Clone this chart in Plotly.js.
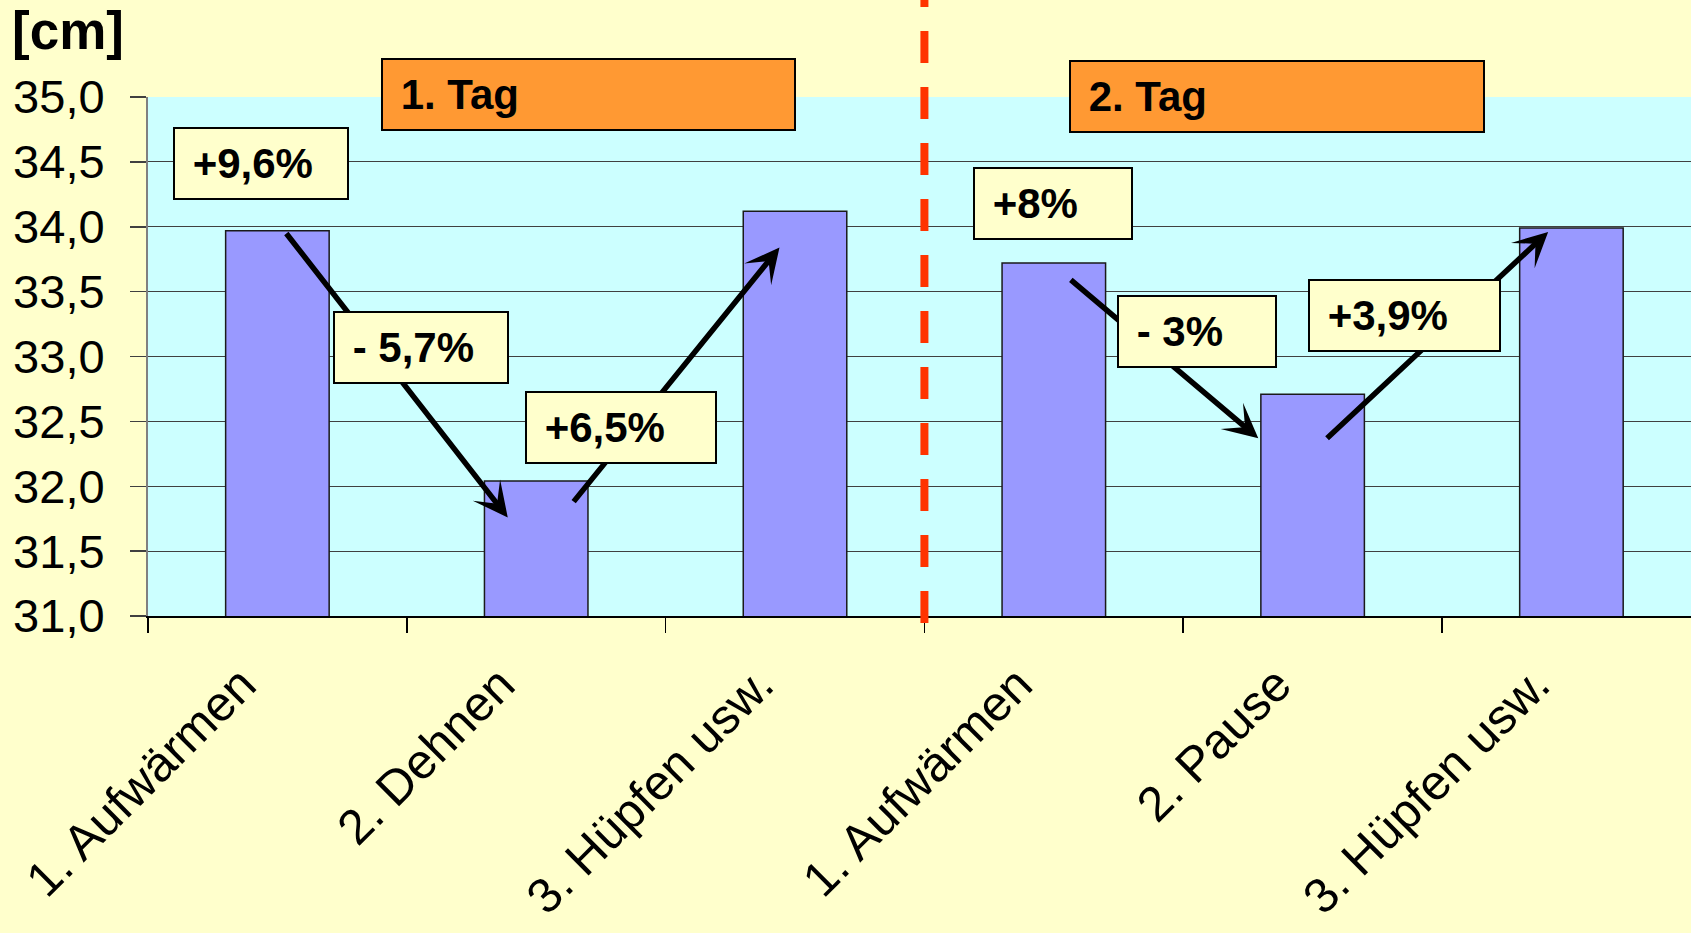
<!DOCTYPE html>
<html>
<head>
<meta charset="utf-8">
<script src="https://cdn.plot.ly/plotly-3.0.1.min.js"></script>
<style>
  html, body { margin: 0; padding: 0; background: #FFFFCC; }
  #chart { width: 1691px; height: 933px; }
</style>
</head>
<body>
<div id="chart"></div>
<script>
// Sprunghöhe je Übungsphase an zwei Tagen
const categories = ['1. Aufwärmen', '2. Dehnen', '3. Hüpfen usw.', '1. Aufwärmen', '2. Pause', '3. Hüpfen usw.'];
const heights = [33.97, 32.04, 34.12, 33.72, 32.71, 33.99];
const dayLabels = ['1. Tag', '2. Tag'];
const changeLabels = ['+9,6%', '- 5,7%', '+6,5%', '+8%', '- 3%', '+3,9%'];
const unitLabel = '[cm]';

const FONT = 'Liberation Sans, Arial, sans-serif';
const positions = categories.map((_, i) => i);
const boundaries = categories.map((_, i) => i - 0.5).concat([categories.length - 0.5]);
const xRange = [-0.5, 5.462];

// Pfeile zwischen den Phasen (Start -> Spitze, in Achsenkoordinaten)
const arrowLayout = [
  { ax: 0.03, ay: 33.96, x: 0.89, y: 31.76 },
  { ax: 1.14, ay: 31.87, x: 1.94, y: 33.84 },
  { ax: 3.06, ay: 33.60, x: 3.79, y: 32.37 },
  { ax: 4.05, ay: 32.36, x: 4.91, y: 33.96 }
];

// Kästen: linke obere Ecke, Breite in Pixeln
const changeBoxes = [
  { x: -0.403, y: 34.769, w: 176 },
  { x: 0.215, y: 33.351, w: 176 },
  { x: 0.957, y: 32.734, w: 192 },
  { x: 2.688, y: 34.460, w: 160 },
  { x: 3.244, y: 33.474, w: 160 },
  { x: 3.982, y: 33.597, w: 193 }
];
// Tages-Kästen liegen über dem Diagrammbereich: y in Papierkoordinaten
const dayBoxes = [
  { x: 0.400, y: 1.0751, w: 415 },
  { x: 3.059, y: 1.0713, w: 416 }
];
const BOX_H = 73, BORDER = 2, PAD = 6;

function box(label, pos, fill, yref) {
  return {
    xref: 'x', yref: yref, x: pos.x, y: pos.y,
    xanchor: 'left', yanchor: 'top',
    showarrow: false,
    text: '\u00A0' + label,
    align: 'left', valign: 'middle',
    width: pos.w - 2 * (BORDER + PAD),
    height: BOX_H - 2 * (BORDER + PAD),
    borderpad: PAD, borderwidth: BORDER, bordercolor: '#000000',
    bgcolor: fill,
    font: { family: FONT, size: 42, color: '#000000', weight: 'bold' }
  };
}

const annotations = [];
arrowLayout.forEach(a => annotations.push({
  xref: 'x', yref: 'y', axref: 'x', ayref: 'y',
  x: a.x, y: a.y, ax: a.ax, ay: a.ay,
  text: '', showarrow: true,
  arrowhead: 3, arrowsize: 1.05, arrowwidth: 5.5, arrowcolor: '#000000', standoff: 0
}));
changeLabels.forEach((t, i) => annotations.push(box(t, changeBoxes[i], '#FFFFCC', 'y')));
dayLabels.forEach((t, i) => annotations.push(box(t, dayBoxes[i], '#FF9933', 'paper')));
annotations.push({
  xref: 'paper', yref: 'paper', x: -0.0895, y: 1.128,
  xanchor: 'left', yanchor: 'middle', showarrow: false,
  text: unitLabel,
  font: { family: FONT, size: 53, color: '#000000', weight: 'bold' }
});

const traces = [
  {
    type: 'bar', x: positions, y: heights,
    marker: { color: '#9999FF', line: { color: '#1a1a1a', width: 1.5 } },
    hoverinfo: 'x+y'
  },
  { type: 'scatter', x: [], y: [], xaxis: 'x2', yaxis: 'y', showlegend: false, hoverinfo: 'skip' }
];

const layout = {
  width: 1691, height: 933,
  margin: { l: 148, r: 0, t: 97, b: 317, pad: 0 },
  paper_bgcolor: '#FFFFCC', plot_bgcolor: '#CCFFFF',
  separators: ', ',
  bargap: 0.6,
  showlegend: false,
  font: { family: FONT, color: '#000000' },
  xaxis: {
    range: xRange, tickmode: 'array', tickvals: positions, ticktext: categories,
    ticks: '', tickangle: -45, ticklabelstandoff: 18, ticklabelshift: -36,
    tickfont: { family: FONT, size: 49, color: '#000000' },
    showgrid: false, zeroline: false, showline: true, linecolor: '#000000', linewidth: 2
  },
  xaxis2: {
    overlaying: 'x', anchor: 'y', side: 'bottom', range: xRange,
    tickmode: 'array', tickvals: boundaries, ticks: 'outside', ticklen: 16,
    tickwidth: 1.5, tickcolor: '#000000',
    showticklabels: false, showgrid: false, zeroline: false, showline: false
  },
  yaxis: {
    range: [31, 35], tickmode: 'linear', tick0: 31, dtick: 0.5, tickformat: '.1f',
    ticks: 'outside', ticklen: 16, tickwidth: 1.5, tickcolor: '#404040',
    ticklabelstandoff: 16,
    gridcolor: '#404040', gridwidth: 1,
    showline: true, linecolor: '#808080', linewidth: 2, zeroline: false,
    tickfont: { family: FONT, size: 47, color: '#000000' }
  },
  shapes: [{
    type: 'line', xref: 'x', yref: 'paper',
    x0: 2.5, x1: 2.5, y0: -0.0135, y1: 1.19,
    line: { color: '#FF3300', width: 8, dash: '32px,24px' },
    layer: 'above'
  }],
  annotations: annotations
};

Plotly.newPlot('chart', traces, layout, { displayModeBar: false, staticPlot: true });
</script>
</body>
</html>
